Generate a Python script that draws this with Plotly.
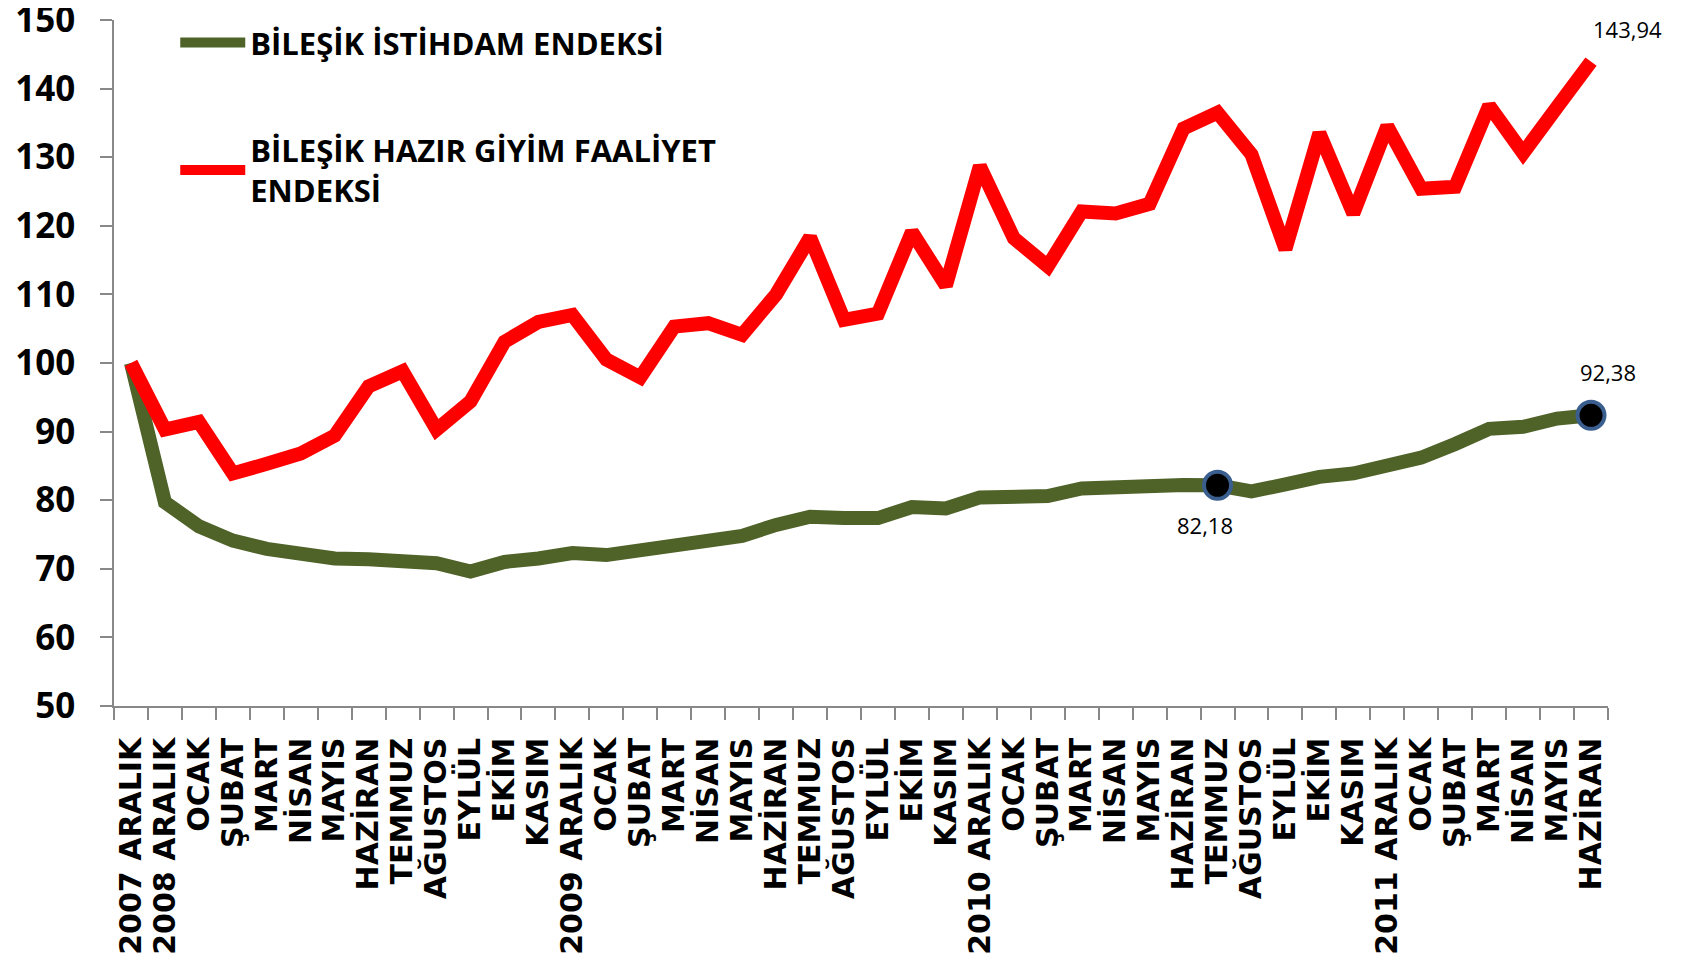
import plotly.graph_objects as go

categories = ["2007 ARALIK", "2008 ARALIK", "OCAK", "ŞUBAT", "MART", "NİSAN", "MAYIS", "HAZİRAN",
              "TEMMUZ", "AĞUSTOS", "EYLÜL", "EKİM", "KASIM",
              "2009 ARALIK", "OCAK", "ŞUBAT", "MART", "NİSAN", "MAYIS", "HAZİRAN",
              "TEMMUZ", "AĞUSTOS", "EYLÜL", "EKİM", "KASIM",
              "2010 ARALIK", "OCAK", "ŞUBAT", "MART", "NİSAN", "MAYIS", "HAZİRAN",
              "TEMMUZ", "AĞUSTOS", "EYLÜL", "EKİM", "KASIM",
              "2011 ARALIK", "OCAK", "ŞUBAT", "MART", "NİSAN", "MAYIS", "HAZİRAN"]

istihdam = [100.0, 79.7, 76.2, 74.1, 72.9, 72.0, 71.5, 71.4, 71.2, 70.8, 69.6, 71.0, 71.5,
            72.3, 72.0, 72.6, 73.5, 74.1, 74.8, 76.4, 77.6, 77.4, 77.4, 79.0, 78.8,
            80.4, 80.3, 80.6, 81.7, 82.0, 82.1, 82.2, 82.18, 81.3, 82.3, 83.4, 83.9,
            85.2, 86.2, 88.2, 90.4, 90.7, 91.9, 92.38]

hazir_giyim = [100.0, 90.3, 91.4, 83.9, 85.3, 86.8, 89.4, 96.6, 98.8, 90.3, 94.4, 103.1, 106.0,
               107.0, 100.5, 97.9, 105.3, 105.8, 104.1, 110.0, 118.3, 106.3, 107.2, 119.1, 111.3,
               128.7, 118.2, 114.1, 122.1, 121.8, 123.2, 134.2, 136.5, 130.4, 116.6, 133.5, 121.8,
               134.5, 125.4, 125.7, 137.5, 130.6, 137.3, 143.94]

series_names = ["BİLEŞİK İSTİHDAM ENDEKSİ", "BİLEŞİK HAZIR GİYİM FAALİYET<br>ENDEKSİ"]
highlight_idx = [32, 43]

x = list(range(len(categories)))

def fmt(v):
    return f"{v:.2f}".replace(".", ",")

fig = go.Figure()
fig.add_trace(go.Scatter(x=x, y=istihdam, mode="lines", name=series_names[0],
                         line=dict(color="#4F6228", width=14), legendgroup="a"))
fig.add_trace(go.Scatter(x=x, y=hazir_giyim, mode="lines", name=series_names[1],
                         line=dict(color="#FF0000", width=14), legendgroup="b"))
fig.add_trace(go.Scatter(x=[x[i] for i in highlight_idx], y=[istihdam[i] for i in highlight_idx],
                         mode="markers", showlegend=False,
                         marker=dict(color="black", size=27, line=dict(color="#3A5F8F", width=4))))

label_font = dict(family="Open Sans", size=22, color="black")
fig.add_annotation(x=x[-1], y=hazir_giyim[-1], text=fmt(hazir_giyim[-1]), showarrow=False,
                   xshift=36, yshift=33, font=label_font)
fig.add_annotation(x=x[43], y=istihdam[43], text=fmt(istihdam[43]), showarrow=False,
                   xshift=17, yshift=43, font=label_font)
fig.add_annotation(x=x[32], y=istihdam[32], text=fmt(istihdam[32]), showarrow=False,
                   xshift=-13, yshift=-40, font=label_font)

# the page body adds an 8px offset; the figure is sized so the plot area lands where the reference has it
fig.update_layout(
    width=1682, height=954,
    margin=dict(l=106, r=82, t=12, b=256, autoexpand=False),
    paper_bgcolor="white", plot_bgcolor="white",
    showlegend=True,
    legend=dict(x=0.041, y=1.006, xanchor="left", yanchor="top",
                font=dict(family="Open Sans", size=31, color="black", weight="bold"),
                itemwidth=65, traceorder="grouped", tracegroupgap=64,
                bgcolor="rgba(0,0,0,0)"),
    xaxis=dict(range=[-0.5, len(categories) - 0.5], tickmode="array", tickvals=x, ticktext=categories,
               tickangle=-90, ticks="", showline=True, linecolor="#888888", linewidth=1.5,
               showgrid=False, zeroline=False, ticklabelstandoff=18, automargin=False,
               tickfont=dict(family="DejaVu Sans", size=30, color="black", weight="bold"),
               minor=dict(ticks="outside", tick0=-0.5, dtick=1, ticklen=12, tickcolor="#888888",
                          tickwidth=1.5, showgrid=False)),
    yaxis=dict(range=[50, 150], dtick=10, ticks="outside", ticklen=12, tickcolor="#888888",
               tickwidth=1.5, showline=True, linecolor="#888888", linewidth=1.5,
               showgrid=False, zeroline=False, ticklabelstandoff=18, automargin=False,
               ticklabeloverflow="allow",
               tickfont=dict(family="Open Sans", size=35, color="black", weight="bold")),
)

fig.write_html("out.html")
